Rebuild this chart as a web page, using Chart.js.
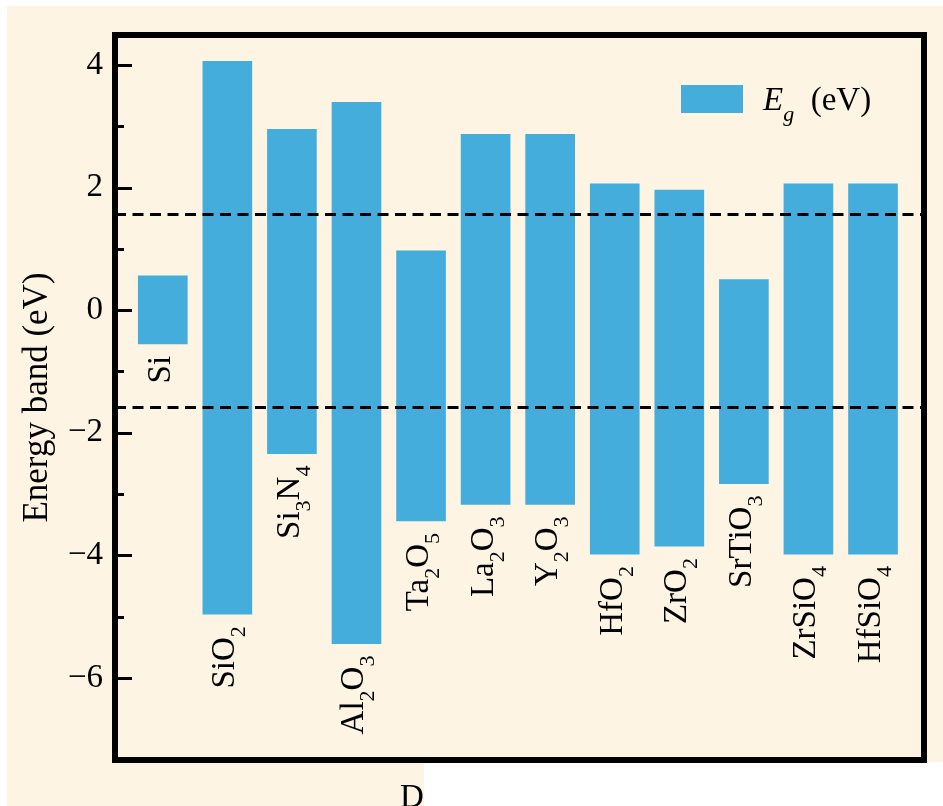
<!DOCTYPE html>
<html><head><meta charset="utf-8">
<style>html,body{margin:0;padding:0;background:#fff;overflow:hidden}#wrap{width:943px;height:806px;position:relative}</style>
<script src="https://cdn.jsdelivr.net/npm/chart.js@4.4.0/dist/chart.umd.min.js"></script>
</head><body><div id="wrap"><canvas id="c" width="943" height="806"></canvas></div>
<script>
// ---- data ----
const categories = ['Si','SiO_2','Si_3N_4','Al_2O_3','Ta_2O_5','La_2O_3','Y_2O_3','HfO_2','ZrO_2','SrTiO_3','ZrSiO_4','HfSiO_4'];
const bandTop    = [0.56, 4.06, 2.95, 3.39, 0.97, 2.87, 2.87, 2.06, 1.96, 0.50, 2.06, 2.06];
const bandBottom = [-0.55, -4.96, -2.34, -5.44, -3.44, -3.17, -3.17, -3.98, -3.85, -2.83, -3.98, -3.98];
const dashedLevels = [1.56, -1.59];
const majorTicks = [-6, -4, -2, 0, 2, 4];
const minorTicks = [-5, -3, -1, 1, 3];
const seriesLabel = 'E_g  (eV)';
const yTitle = 'Energy band (eV)';
const footLetter = 'D';

// ---- style ----
const BAR = '#45ADDB';
const CREAM = '#FDF4E4';
const SERIF = '"Liberation Serif", "Times New Roman", serif';
const FS = 33, SUB = 22, SUBOFF = 11;

function parseRich(s){
  const segs=[];let buf='';
  for(let i=0;i<s.length;i++){
    if(s[i]==='_'&&i+1<s.length){ if(buf){segs.push({t:buf,sub:false});buf='';} segs.push({t:s[i+1],sub:true}); i++; }
    else buf+=s[i];
  }
  if(buf)segs.push({t:buf,sub:false});
  return segs;
}
function richWidth(ctx,s){
  let w=0;
  for(const g of parseRich(s)){ctx.font=(g.sub?SUB:FS)+'px '+SERIF; w+=ctx.measureText(g.t).width;}
  return w;
}
function drawRich(ctx,s,x,y,italicFirst){
  let cx=x; let idx=0;
  for(const g of parseRich(s)){
    const it = italicFirst && idx<2;
    ctx.font=(it?'italic ':'')+(g.sub?SUB:FS)+'px '+SERIF;
    ctx.fillText(g.t,cx,y+(g.sub?SUBOFF:0));
    cx+=ctx.measureText(g.t).width; idx++;
  }
  return cx-x;
}

const decor = {
  id:'decor',
  beforeDraw(chart){
    const ctx=chart.ctx;
    ctx.save();
    ctx.fillStyle='#fff';ctx.fillRect(0,0,chart.width,chart.height);
    ctx.fillStyle=CREAM;
    ctx.fillRect(7,6,chart.width-7,756);
    ctx.fillRect(7,760,417,chart.height-760);
    ctx.restore();
  },
  afterDatasetsDraw(chart){
    const ctx=chart.ctx, a=chart.chartArea, ys=chart.scales.y, xs=chart.scales.x;
    ctx.save();
    ctx.fillStyle='#000';
    ctx.textBaseline='alphabetic';ctx.textAlign='left';
    // category labels below bars, rotated
    categories.forEach((c,i)=>{
      const cx=xs.getPixelForValue(i);
      const yb=ys.getPixelForValue(bandBottom[i]);
      const w=richWidth(ctx,c);
      ctx.save();
      ctx.translate(cx+7, yb+12+w);
      ctx.rotate(-Math.PI/2);
      drawRich(ctx,c,0,0,false);
      ctx.restore();
    });
    // tick marks (inward)
    ctx.strokeStyle='#000';ctx.lineWidth=3;ctx.lineCap='butt';
    majorTicks.forEach(v=>{const y=Math.round(ys.getPixelForValue(v))+0.5;ctx.beginPath();ctx.moveTo(a.left,y);ctx.lineTo(a.left+17,y);ctx.stroke();});
    minorTicks.forEach(v=>{const y=Math.round(ys.getPixelForValue(v))+0.5;ctx.beginPath();ctx.moveTo(a.left,y);ctx.lineTo(a.left+9,y);ctx.stroke();});
    // frame
    ctx.lineWidth=6;
    ctx.strokeRect(a.left,a.top,a.right-a.left,a.bottom-a.top);
    // legend
    const ds=chart.data.datasets[0];
    ctx.fillStyle=ds.backgroundColor;
    ctx.fillRect(a.right-243,a.top+50,62,28);
    ctx.fillStyle='#000';
    drawRich(ctx,seriesLabel,a.right-161,a.top+75,true);
    // footer letter
    ctx.font=FS+'px '+SERIF;
    ctx.fillText(footLetter,400,807);
    ctx.restore();
  }
};

const barData = categories.map((c,i)=>({x:i,y:[bandBottom[i],bandTop[i]]}));
const dashSets = dashedLevels.map(v=>({
  type:'line', data:[{x:-0.74,y:v},{x:11.79,y:v}], borderColor:'#000', borderWidth:3,
  borderDash:[11,6.5], pointRadius:0, fill:false, order:1
}));

new Chart(document.getElementById('c'),{
  type:'bar',
  data:{datasets:[{label:seriesLabel,data:barData,backgroundColor:BAR,borderWidth:0,barThickness:49,order:2},...dashSets]},
  options:{
    responsive:false, animation:false, devicePixelRatio:1,
    layout:{padding:{top:35,right:19,bottom:46,left:0}},
    plugins:{legend:{display:false},tooltip:{enabled:false}},
    scales:{
      x:{type:'linear',min:-0.74,max:11.79,offset:false,grid:{offset:false},display:false},
      y:{
        min:-7.34,max:4.49,
        afterFit(s){s.width=115;},
        afterBuildTicks(s){s.ticks=majorTicks.map(v=>({value:v}));},
        grid:{display:false,drawTicks:false},
        border:{display:false},
        ticks:{padding:12,color:'#000',font:{family:SERIF,size:FS},callback:v=>(v<0?'\u2212'+Math.abs(v):String(v))},
        title:{display:true,text:yTitle,color:'#000',font:{family:SERIF,size:35},padding:{top:17,bottom:0}}
      }
    }
  },
  plugins:[decor]
});
</script></body></html>
